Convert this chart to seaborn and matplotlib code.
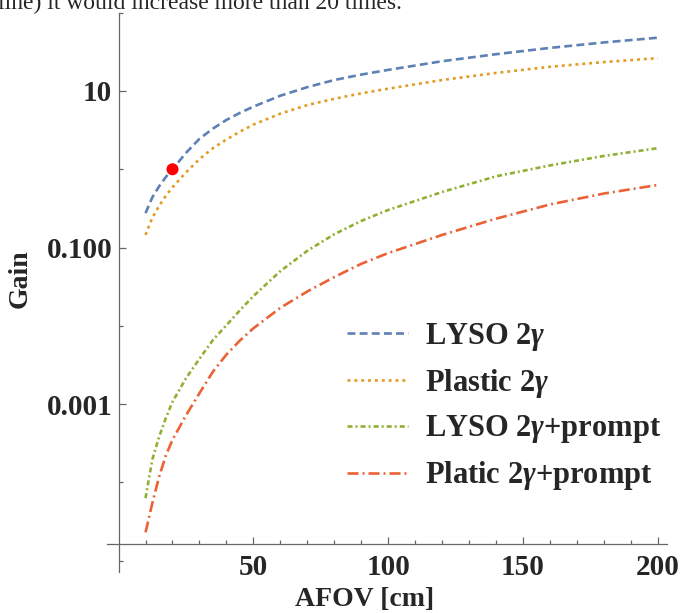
import numpy as np
import pandas as pd
import matplotlib
matplotlib.use("Agg")
import matplotlib.pyplot as plt
import seaborn as sns
from matplotlib.ticker import NullFormatter

# values (gain on a log axis)
afov = [10, 12.5, 15, 17.5, 20, 25, 30, 35, 40, 45, 50, 60, 70, 80, 90, 100, 120, 140, 160, 180, 200]
lyso_2g = [0.275, 0.437, 0.603, 0.794, 1.0, 1.62, 2.45, 3.31, 4.27, 5.25, 6.31, 8.7, 11.2, 13.8,
           16.2, 18.6, 24.0, 29.5, 35.5, 41.7, 47.9]
plastic_2g = [0.145, 0.240, 0.339, 0.457, 0.589, 0.912, 1.35, 1.86, 2.40, 3.02, 3.72, 5.13, 6.61, 7.94,
              9.33, 10.7, 13.8, 17.0, 20.4, 23.4, 26.3]
lyso_prompt = [6.3e-5, 1.95e-4, 3.8e-4, 6.6e-4, 1.07e-3, 2.14e-3, 3.8e-3, 6.6e-3, 0.0102, 0.0158, 0.024,
               0.050, 0.091, 0.148, 0.219, 0.302, 0.513, 0.813, 1.12, 1.48, 1.86]
plastic_prompt = [2.3e-5, 5.4e-5, 1.17e-4, 2.2e-4, 3.5e-4, 7.2e-4, 1.38e-3, 2.6e-3, 4.3e-3, 6.5e-3, 9.3e-3,
                  0.017, 0.0275, 0.042, 0.062, 0.085, 0.145, 0.234, 0.355, 0.49, 0.63]
point_x = [20]
point_y = [1.0]

labels = ["LYSO 2$\\gamma$", "Plastic 2$\\gamma$", "LYSO 2$\\gamma$+prompt", "Platic 2$\\gamma$+prompt"]
colors = ["#5E81B5", "#E19C24", "#8FB032", "#EB6235"]
dashes = [(0, (3.0, 1.6)), (0, (1.1, 1.5)), (0, (1.9, 1.15, 0.75, 1.15)), (0, (4.2, 1.5, 0.75, 1.5))]

yticks = [10, 0.1, 0.001]
yticklabels = ["10", "0.100", "0.001"]
xticks = [50, 100, 150, 200]
xticklabels = ["50", "100", "150", "200"]

sns.set_style("ticks")
plt.rcParams["font.family"] = ["Liberation Serif", "DejaVu Serif"]
plt.rcParams["font.weight"] = "bold"
plt.rcParams["axes.labelweight"] = "bold"
plt.rcParams["mathtext.fontset"] = "custom"
plt.rcParams["mathtext.it"] = "Liberation Serif:italic"
plt.rcParams["mathtext.rm"] = "Liberation Serif:bold"

fig = plt.figure(figsize=(6.84, 6.13), dpi=100)
ax = fig.add_axes([0.156, 0.0674, 0.8192, 0.9119])

series = [lyso_2g, plastic_2g, lyso_prompt, plastic_prompt]
for vals, lab, col, ls in zip(series, labels, colors, dashes):
    df = pd.DataFrame({"afov": afov, "gain": vals})
    sns.lineplot(data=df, x="afov", y="gain", color=col, linestyle=ls,
                 linewidth=1.9, label=lab, ax=ax)

sns.scatterplot(x=point_x, y=point_y, color="#FF0000", s=75, edgecolor="none", zorder=5, ax=ax)

ax.set_yscale("log")
ax.set_xlim(-4.4, 203.4)
ax.set_ylim(10 ** -5.14, 10 ** 2.0)

gray = "#666666"
for side in ["top", "right"]:
    ax.spines[side].set_visible(False)
ax.spines["left"].set_position(("data", 0))
ax.spines["bottom"].set_position(("data", 10 ** -4.79))
for side in ["left", "bottom"]:
    ax.spines[side].set_color(gray)
    ax.spines[side].set_linewidth(0.9)

ax.set_yticks(yticks)
ax.set_yticklabels(yticklabels)
ax.set_yticks([100, 1, 0.01, 1e-4, 1e-5], minor=True)
ax.yaxis.set_minor_formatter(NullFormatter())
ax.set_xticks(xticks)
ax.set_xticklabels(xticklabels)
ax.set_xticks([t for t in range(10, 201, 10) if t % 50 != 0], minor=True)

ax.tick_params(which="both", direction="in", color=gray, width=0.9, labelsize=21)
ax.tick_params(which="major", length=5)
ax.tick_params(which="minor", length=2.7)
ax.tick_params(axis="y", pad=4.5)
ax.tick_params(axis="x", pad=7)

ax.set_xlabel("AFOV [cm]", fontsize=20)
ax.xaxis.set_label_coords(0.461, -0.027)
ax.set_ylabel("Gain", fontsize=20, va="center")
ax.yaxis.set_label_coords(-0.155, 0.525)

ax.legend(loc="upper left", bbox_to_anchor=(0.4289, 0.4485), frameon=False,
          fontsize=22, handlelength=2.0, handletextpad=0.55, labelspacing=0.45,
          borderpad=0, borderaxespad=0)

fig.text(-0.003, 1 - 9 / 613, "line) it would increase more than 20 times.",
         fontsize=17, fontweight="normal", va="baseline", ha="left")

fig.savefig("out.png", dpi=100)
